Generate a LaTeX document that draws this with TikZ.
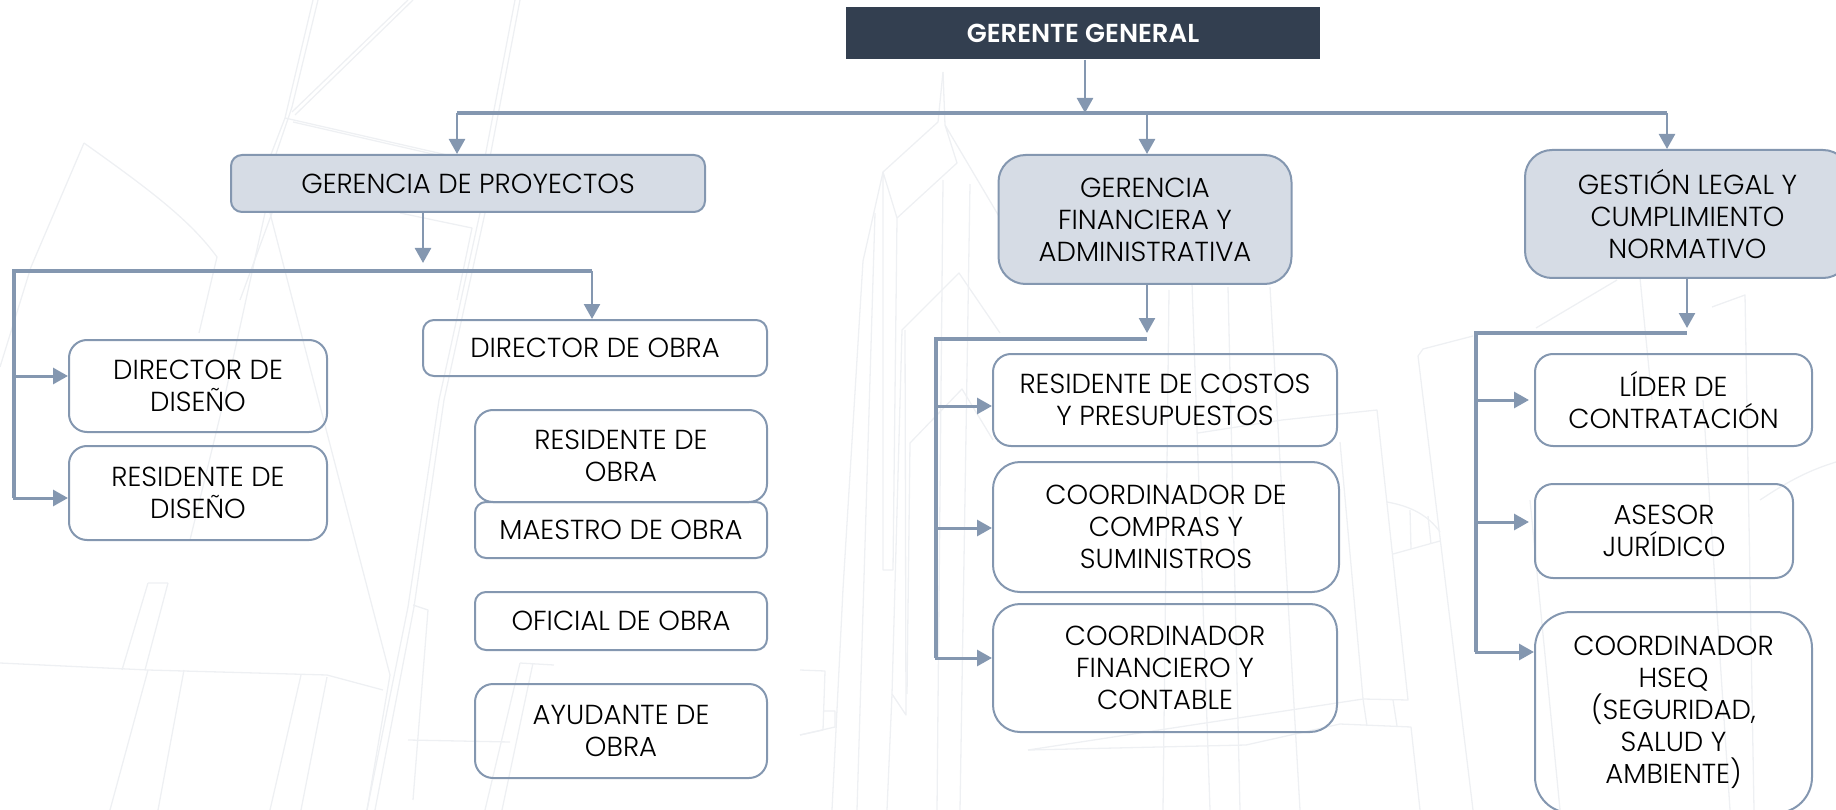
\documentclass[tikz,border=0pt]{standalone}
\usepackage{fontspec}
\setmainfont{Poppins Light}[BoldFont=Poppins SemiBold]
\usetikzlibrary{arrows.meta}
\begin{document}
\begin{tikzpicture}[x=1pt,y=-1pt]
  % Colors
  \definecolor{linecolor}{HTML}{8497B0}
  \definecolor{softcolor}{HTML}{D6DCE5}
  \definecolor{topcolor}{HTML}{333F50}
  \definecolor{sketchcolor}{HTML}{EEF0F3}

  % Styles
  \tikzstyle{sketch}=[draw=sketchcolor,line width=1.3pt,line join=round]
  \tikzstyle{box}=[draw=linecolor,line width=2pt,align=center,inner sep=0pt,
    font=\fontsize{27.5}{32}\selectfont]
  \tikzstyle{small box}=[box,rounded corners=11pt]
  \tikzstyle{mid box}=[box,rounded corners=18pt]
  \tikzstyle{big box}=[box,rounded corners=27pt]
  \tikzstyle{soft}=[fill=softcolor]
  \tikzstyle{bus}=[draw=linecolor,line width=4pt]
  \tikzstyle{stem}=[draw=linecolor,line width=2.5pt,-{Triangle[length=15pt,width=16pt]}]
  \tikzstyle{side stem}=[stem,line width=3pt,shorten <=-1.5pt]

  \useasboundingbox (0,0) rectangle (1836,810);

  % The sketch behind, left
  \draw[sketch] (318,0) -- (292,107) -- (275,157) -- (265,213) -- (224,400) -- (190,540);
  \draw[sketch] (313,0) -- (285,118) -- (270,157);
  \draw[sketch] (408,0) -- (292,112) (413,0) -- (295,115);
  \draw[sketch] (515,0) -- (485,157) -- (480,213) -- (439,400) -- (408,607) -- (367,810);
  \draw[sketch] (520,0) -- (490,157) -- (485,213) -- (444,400) -- (414,607) -- (375,810);
  \draw[sketch] (285,118) -- (447,155) (293,122) -- (437,155);
  \draw[sketch] (400,213) -- (472,228) -- (457,300);
  \draw[sketch] (84,143) -- (31,267) -- (0,367);
  \draw[sketch] (84,143) .. controls (150,190) and (190,220) .. (217,257) -- (199,333);
  \draw[sketch] (270,213) -- (327,433) -- (390,675) -- (367,810);
  \draw[sketch] (272,213) -- (240,300);
  \draw[sketch] (0,663) -- (148,670) -- (327,675) -- (383,690);
  \draw[sketch] (148,670) -- (110,810) (184,670) -- (158,810);
  \draw[sketch] (301,675) -- (270,810) (327,677) -- (301,810);
  \draw[sketch] (148,583) -- (122,670) (168,583) -- (145,670) (148,583) -- (168,583);
  \draw[sketch] (413,605) -- (428,610) -- (413,800);
  \draw[sketch] (520,663) -- (554,665) (520,663) -- (485,810) (533,663) -- (502,810);
  \draw[sketch] (408,740) -- (510,742);

  % The sketch behind, tower
  \draw[sketch] (943,72) -- (938,122) -- (883,172) -- (863,261) -- (843,589) -- (832,810);
  \draw[sketch] (943,72) -- (945,125) -- (1000,218) (945,125) -- (957,163) -- (897,218);
  \draw[sketch] (883,172) -- (897,218) -- (893,570) -- (883,570) -- (883,172);
  \draw[sketch] (875,213) -- (857,810) (943,180) -- (937,810) (970,184) -- (960,810);
  \draw[sketch] (1000,333) -- (959,273) -- (902,330) -- (892,694) -- (887,810);
  \draw[sketch] (905,330) -- (906,715) -- (892,694);
  \draw[sketch] (993,440) -- (962,389) -- (910,443) -- (907,694);
  \draw[sketch] (800,670) -- (825,671) -- (823,730) -- (800,735);
  \draw[sketch] (823,711) -- (835,711) -- (835,727) -- (800,735);

  % The sketch behind, right
  \draw[sketch] (1169,290) -- (1163,810) (1192,283) -- (1210,810) (1228,287) -- (1240,810);
  \draw[sketch] (1270,287) -- (1300,810);
  \draw[sketch] (1198,433) -- (1282,420) -- (1377,410) -- (1408,700) -- (1363,699) -- (1028,750);
  \draw[sketch] (1340,442) -- (1363,699) -- (1367,726) (1393,700) -- (1397,726);
  \draw[sketch] (1028,750) -- (1246,745) -- (1340,724) -- (1411,727) -- (1420,810);
  \draw[sketch] (1473,336) -- (1423,349) -- (1418,356) -- (1473,810);
  \draw[sketch] (1387,502) .. controls (1410,506) and (1428,515) .. (1440,532);
  \draw[sketch] (1393,554) -- (1440,541) (1410,510) -- (1411,549) (1428,516) -- (1431,544);
  \draw[sketch] (1536,328) -- (1617,280) (1640,278) -- (1652,400);
  \draw[sketch] (1712,307) -- (1745,295) -- (1754,810) (1703,400) -- (1730,810);
  \draw[sketch] (1760,500) .. controls (1790,480) and (1810,470) .. (1836,462);
  \draw[sketch] (1530,500) -- (1560,810);

  % Top level
  \node[box,draw=none,fill=topcolor,text=white,minimum width=474pt,minimum height=52pt,
    font=\fontsize{26}{32}\selectfont\bfseries] (gerente) at (1083,33) {GERENTE GENERAL};

  \node[small box,soft,minimum width=474pt,minimum height=57pt] (proyectos) at (468,183.5) {GERENCIA DE PROYECTOS};
  \node[big box,soft,minimum width=293pt,minimum height=129pt] (financiera) at (1145,219.5)
    {GERENCIA\\FINANCIERA Y\\ADMINISTRATIVA};
  \node[big box,soft,minimum width=325pt,minimum height=128pt] (gestion) at (1687.5,214)
    {GESTIÓN LEGAL Y\\CUMPLIMIENTO\\NORMATIVO};

  % Proyectos
  \node[mid box,minimum width=258pt,minimum height=92pt] (dirdis) at (198,386) {DIRECTOR DE\\DISEÑO};
  \node[mid box,minimum width=258pt,minimum height=94pt] (resdis) at (198,493) {RESIDENTE DE\\DISEÑO};
  \node[small box,minimum width=344pt,minimum height=56pt] (dirobra) at (595,348) {DIRECTOR DE OBRA};
  \node[mid box,minimum width=292pt,minimum height=92pt] (resobra) at (621,456) {RESIDENTE DE\\OBRA};
  \node[small box,minimum width=292pt,minimum height=56pt] (maestro) at (621,530) {MAESTRO DE OBRA};
  \node[small box,minimum width=292pt,minimum height=58pt] (oficial) at (621,621) {OFICIAL DE OBRA};
  \node[mid box,minimum width=292pt,minimum height=94pt] (ayudante) at (621,731) {AYUDANTE DE\\OBRA};

  % Financiera
  \node[mid box,minimum width=344pt,minimum height=92pt] (costos) at (1165,400) {RESIDENTE DE COSTOS\\Y PRESUPUESTOS};
  \node[big box,minimum width=346pt,minimum height=130pt] (compras) at (1166,527)
    {COORDINADOR DE\\COMPRAS Y\\SUMINISTROS};
  \node[big box,minimum width=344pt,minimum height=128pt] (contable) at (1165,668)
    {COORDINADOR\\FINANCIERO Y\\CONTABLE};

  % Gestion
  \node[mid box,minimum width=277pt,minimum height=92pt] (lider) at (1673.5,400) {LÍDER DE\\CONTRATACIÓN};
  \node[mid box,minimum width=258pt,minimum height=94pt] (asesor) at (1664,531) {ASESOR\\JURÍDICO};
  \node[big box,rounded corners=36pt,minimum width=277pt,minimum height=201pt] (hseq) at (1673.5,712.5)
    {COORDINADOR\\HSEQ\\(SEGURIDAD,\\SALUD Y\\AMBIENTE)};

  % Main bus
  \coordinate (busa) at (457,113);
  \coordinate (busb) at (1085,113);
  \coordinate (busc) at (1147,113);
  \coordinate (busd) at (1667,113);
  \draw[bus] (busa) -- (busd);
  \draw[stem] (gerente.south -| busb) -- (busb);
  \draw[stem] (busa) -- (proyectos.north -| busa);
  \draw[stem] (busc) -- (financiera.north -| busc);
  \draw[stem] (busd) -- (gestion.north -| busd);

  % Proyectos bus
  \coordinate (pa) at (14,271);
  \coordinate (pb) at (423,263);
  \coordinate (pc) at (592,271);
  \coordinate (pd) at (14,376);
  \coordinate (pe) at (14,498);
  \draw[bus] (pe) -- (pa) -- (pc);
  \draw[stem] (proyectos.south -| pb) -- (pb);
  \draw[stem] (pc) -- (dirobra.north -| pc);
  \draw[side stem] (pd) -- (dirdis.west |- pd);
  \draw[side stem] (pe) -- (resdis.west |- pe);

  % Financiera bus
  \coordinate (fa) at (936,339);
  \coordinate (fb) at (1147,333);
  \coordinate (fc) at (936,406);
  \coordinate (fd) at (936,528);
  \coordinate (fe) at (936,658);
  \coordinate (ff) at (1147,339);
  \draw[bus] (fe) -- (fa) -- (ff);
  \draw[stem] (financiera.south -| fb) -- (fb);
  \draw[side stem] (fc) -- (costos.west |- fc);
  \draw[side stem] (fd) -- (compras.west |- fd);
  \draw[side stem] (fe) -- (contable.west |- fe);

  % Gestion bus
  \coordinate (ga) at (1476,333);
  \coordinate (gb) at (1687,328);
  \coordinate (gc) at (1476,400);
  \coordinate (gd) at (1476,522);
  \coordinate (ge) at (1476,652);
  \coordinate (gf) at (1529,400);
  \coordinate (gg) at (1529,522);
  \coordinate (gh) at (1687,333);
  \draw[bus] (ge) -- (ga) -- (gh);
  \draw[stem] (gestion.south -| gb) -- (gb);
  \draw[side stem] (gc) -- (gf);
  \draw[side stem] (gd) -- (gg);
  \draw[side stem] (ge) -- (hseq.west |- ge);
\end{tikzpicture}
\end{document}
